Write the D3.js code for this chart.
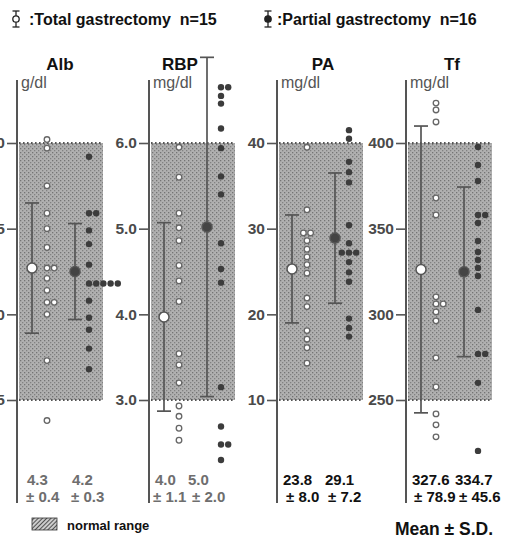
<!DOCTYPE html>
<html><head><meta charset="utf-8">
<script src="https://cdn.jsdelivr.net/npm/d3@7"></script>
<style>body{margin:0;background:#fff}svg{display:block}</style>
</head><body><svg id="c" width="528" height="539"></svg>
<script>
// ---------- data ----------
const panels = ["Alb", "RBP", "PA", "Tf"];
const units = ["g/dl", "mg/dl", "mg/dl", "mg/dl"];
const normalLow = [3.5, 3.0, 10, 250];
const normalHigh = [5.0, 6.0, 40, 400];
const tickValues = [[3.5, 4.0, 4.5, 5.0], [3.0, 4.0, 5.0, 6.0], [10, 20, 30, 40], [250, 300, 350, 400]];
const tickFormats = [".1f", ".1f", "d", "d"];

const albTotal = [5.02, 4.97, 4.75, 4.59, 4.50, 4.39, 4.27, 4.27, 4.21, 4.14, 4.07, 4.07, 4.00, 3.73, 3.38];
const albPartial = [4.92, 4.59, 4.59, 4.49, 4.41, 4.29, 4.18, 4.18, 4.18, 4.18, 4.18, 4.08, 3.98, 3.91, 3.80, 3.68];
const rbpTotal = [5.95, 5.60, 5.18, 5.01, 4.86, 4.57, 4.39, 4.15, 3.54, 3.41, 3.20, 2.93, 2.81, 2.67, 2.53];
const rbpPartial = [6.65, 6.65, 6.55, 6.46, 6.17, 5.94, 5.61, 5.40, 4.83, 4.53, 4.37, 3.15, 2.69, 2.48, 2.48, 2.30];
const paTotal = [39.5, 32.2, 29.5, 29.5, 28.6, 27.6, 26.7, 25.8, 24.8, 21.9, 20.9, 18.1, 17.1, 16.1, 14.3];
const paPartial = [41.5, 40.5, 37.8, 36.6, 35.4, 30.4, 28.3, 27.2, 27.2, 27.2, 26.1, 24.9, 23.8, 19.5, 18.4, 17.4];
const tfTotal = [423.3, 419.3, 412.3, 367.9, 358.0, 310.2, 306.1, 306.1, 301.4, 296.2, 274.6, 257.6, 241.9, 235.5, 228.5];
const tfPartial = [397.7, 387.2, 377.8, 358.0, 358.0, 353.3, 342.8, 336.4, 331.7, 327.1, 322.4, 302.6, 276.9, 276.9, 260.0, 220.3];

const meanTotal = [4.27, 3.97, 25.3, 326.2];
const sdTotal = [0.38, 1.10, 6.3, 83.7];
const meanPartial = [4.25, 5.02, 28.9, 324.8];
const sdPartial = [0.28, 1.98, 7.6, 49.5];

const meanLabelTotal = ["4.3", "4.0", "23.8", "327.6"];
const sdLabelTotal = ["± 0.4", "± 1.1", "± 8.0", "± 78.9"];
const meanLabelPartial = ["4.2", "5.0", "29.1", "334.7"];
const sdLabelPartial = ["± 0.3", "± 2.0", "± 7.2", "± 45.6"];

const seriesTotal = [albTotal, rbpTotal, paTotal, tfTotal];
const seriesPartial = [albPartial, rbpPartial, paPartial, tfPartial];

// ---------- layout ----------
const L = {
  axisX: [17, 149, 277, 406],
  titleX: [60, 180, 323, 452],
  tieMode: ["right", "right", "center", "right"],
  statX: [[27, 72, 26, 71], [155, 188, 153, 192], [283, 325, 286, 328], [412, 455, 414, 459]],
  statColor: ["#6e6e6e", "#6e6e6e", "#111", "#111"],
  yTop: 143, yBot: 400
};

const svg = d3.select("#c");
const defs = svg.append("defs");
const pat = defs.append("pattern").attr("id", "stip").attr("patternUnits", "userSpaceOnUse")
  .attr("width", 4).attr("height", 4);
pat.append("rect").attr("width", 4).attr("height", 4).attr("fill", "#b0b0b0");
pat.append("rect").attr("x", 0).attr("y", 0).attr("width", 1.3).attr("height", 1.3).attr("fill", "#747474");
pat.append("rect").attr("x", 2).attr("y", 2).attr("width", 1.3).attr("height", 1.3).attr("fill", "#828282");

const hatch = defs.append("pattern").attr("id", "hatch").attr("patternUnits", "userSpaceOnUse")
  .attr("width", 3).attr("height", 3).attr("patternTransform", "rotate(45)");
hatch.append("rect").attr("width", 3).attr("height", 3).attr("fill", "#ccc");
hatch.append("line").attr("x1", 0).attr("y1", 0).attr("x2", 0).attr("y2", 3).attr("stroke", "#333").attr("stroke-width", 1.6);

function layoutDots(values, mode) {
  const groups = d3.group(values, v => v);
  const out = [];
  for (const [v, arr] of groups) {
    arr.forEach((_, i) => {
      const off = mode === "center" ? (i - (arr.length - 1) / 2) : i;
      out.push({ v, k: off });
    });
  }
  return out;
}

panels.forEach((name, p) => {
  const ax = L.axisX[p];
  const y = d3.scaleLinear().domain([normalLow[p], normalHigh[p]]).range([L.yBot, L.yTop]);
  const g = svg.append("g");

  // normal range
  g.append("rect").attr("x", ax + 2).attr("width", 84)
    .attr("y", y(normalHigh[p])).attr("height", y(normalLow[p]) - y(normalHigh[p]))
    .attr("fill", "url(#stip)");
  [normalHigh[p], normalLow[p]].forEach(v => {
    g.append("line").attr("x1", ax + 2).attr("x2", ax + 86).attr("y1", y(v)).attr("y2", y(v))
      .attr("stroke", "#555").attr("stroke-width", 2).attr("stroke-dasharray", "1.6,2.4");
  });

  // axis line
  g.append("line").attr("x1", ax).attr("x2", ax).attr("y1", 80).attr("y2", 503)
    .attr("stroke", "#555").attr("stroke-width", 2);
  const axis = d3.axisLeft(y).tickValues(tickValues[p]).tickSize(10).tickPadding(2)
    .tickFormat(d3.format(tickFormats[p]));
  const ag = g.append("g").attr("transform", `translate(${ax},0)`).call(axis);
  ag.select(".domain").remove();
  ag.selectAll(".tick line").attr("stroke", "#555").attr("stroke-width", 1.6);
  ag.selectAll(".tick text").attr("fill", "#4a4a4a").style("font", "bold 15.5px 'Liberation Sans', Arial, sans-serif");

  // title & unit
  g.append("text").attr("x", L.titleX[p]).attr("y", 70).attr("text-anchor", "middle")
    .style("font", "bold 17px 'Liberation Sans', Arial, sans-serif").attr("fill", "#111").text(name);
  g.append("text").attr("x", ax + 4).attr("y", 88)
    .style("font", "16px 'Liberation Sans', Arial, sans-serif").attr("fill", "#555").text(units[p]);

  // error bars
  const bars = [
    { m: meanTotal[p], s: sdTotal[p], x: ax + 15, fill: "#fff" },
    { m: meanPartial[p], s: sdPartial[p], x: ax + 58, fill: "#444" }
  ];
  bars.forEach(b => {
    g.append("line").attr("x1", b.x).attr("x2", b.x).attr("y1", y(b.m - b.s)).attr("y2", y(b.m + b.s))
      .attr("stroke", "#555").attr("stroke-width", 1.7);
    [b.m - b.s, b.m + b.s].forEach(v => {
      g.append("line").attr("x1", b.x - 7).attr("x2", b.x + 7).attr("y1", y(v)).attr("y2", y(v))
        .attr("stroke", "#555").attr("stroke-width", 1.7);
    });
    g.append("circle").attr("cx", b.x).attr("cy", y(b.m)).attr("r", 5)
      .attr("fill", b.fill).attr("stroke", "#555").attr("stroke-width", 1.5);
  });

  // individual points
  const xT = ax + 30, xP = ax + 72, step = 7.2;
  g.selectAll(".pt").data(layoutDots(seriesTotal[p], L.tieMode[p])).join("circle")
    .attr("cx", d => xT + d.k * step).attr("cy", d => y(d.v)).attr("r", 2.8)
    .attr("fill", "#fff").attr("stroke", "#666").attr("stroke-width", 1.3);
  g.selectAll(".pp").data(layoutDots(seriesPartial[p], L.tieMode[p])).join("circle")
    .attr("cx", d => xP + d.k * step).attr("cy", d => y(d.v)).attr("r", 3.2)
    .attr("fill", "#3c3c3c");

  // stats
  const sx = L.statX[p];
  const st = (x, yy, t) => g.append("text").attr("x", x).attr("y", yy).attr("fill", L.statColor[p])
    .style("font", "bold 15px 'Liberation Sans', Arial, sans-serif").text(t);
  st(sx[0], 485, meanLabelTotal[p]);
  st(sx[1], 485, meanLabelPartial[p]);
  st(sx[2], 502, sdLabelTotal[p]);
  st(sx[3], 502, sdLabelPartial[p]);
});

// top legend
function legendSym(x, filled) {
  svg.append("line").attr("x1", x).attr("x2", x).attr("y1", 11).attr("y2", 27).attr("stroke", "#222").attr("stroke-width", 1.3);
  [11, 27].forEach(yy => svg.append("line").attr("x1", x - 3.5).attr("x2", x + 3.5).attr("y1", yy).attr("y2", yy)
    .attr("stroke", "#222").attr("stroke-width", 1.3));
  svg.append("circle").attr("cx", x).attr("cy", 19).attr("r", 3.2)
    .attr("fill", filled ? "#222" : "#fff").attr("stroke", "#222").attr("stroke-width", 1.3);
}
legendSym(16, false);
legendSym(268, true);
svg.append("text").attr("x", 29).attr("y", 25).attr("fill", "#111")
  .style("font", "bold 16px 'Liberation Sans', Arial, sans-serif").attr("xml:space", "preserve")
  .text(":Total gastrectomy  n=15");
svg.append("text").attr("x", 277).attr("y", 25).attr("fill", "#111")
  .style("font", "bold 16px 'Liberation Sans', Arial, sans-serif").attr("xml:space", "preserve")
  .text(":Partial gastrectomy  n=16");

// bottom legend
svg.append("rect").attr("x", 32).attr("y", 518).attr("width", 25).attr("height", 12)
  .attr("fill", "url(#hatch)").attr("stroke", "#333").attr("stroke-width", 0.8);
svg.append("text").attr("x", 67).attr("y", 530).attr("fill", "#111")
  .style("font", "bold 13px 'Liberation Sans', Arial, sans-serif").text("normal range");
svg.append("text").attr("x", 395).attr("y", 535).attr("fill", "#111")
  .style("font", "bold 17.5px 'Liberation Sans', Arial, sans-serif").text("Mean ± S.D.");
</script></body></html>
